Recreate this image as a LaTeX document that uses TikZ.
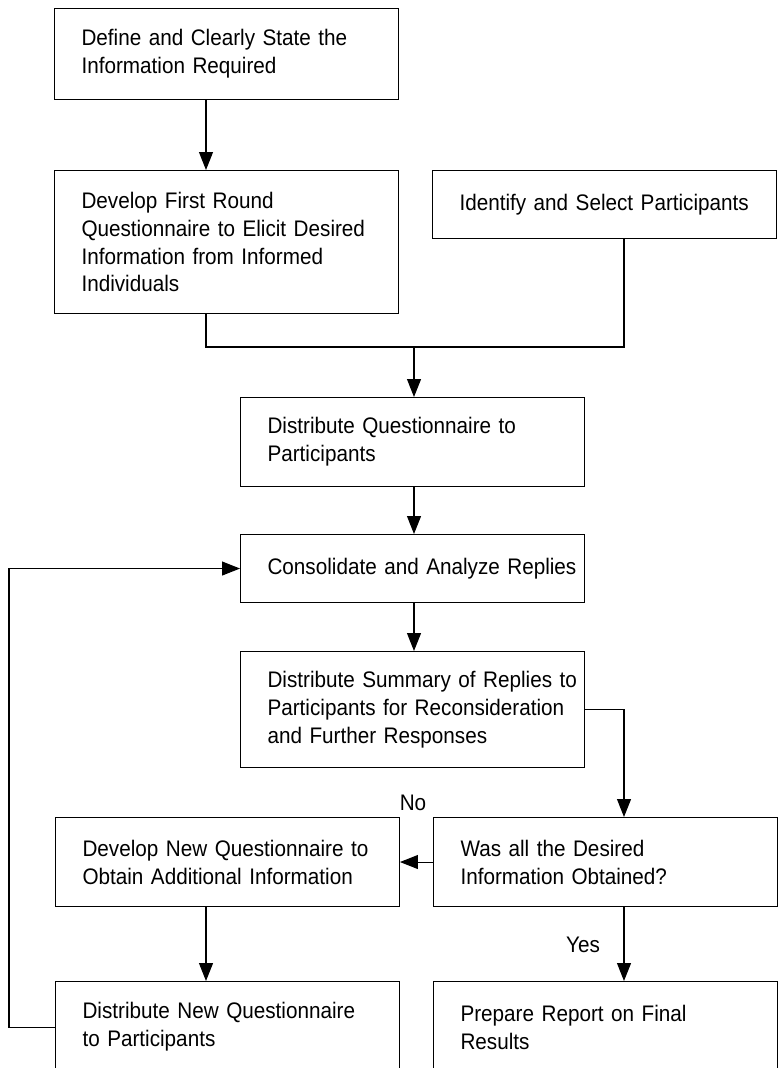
\documentclass[tikz,border=0pt]{standalone}
\usepackage{fontspec}
\setmainfont{Liberation Sans}[FakeStretch=0.92]
\usetikzlibrary{arrows.meta}
\newcommand\boxfont{\fontsize{12.8}{15.9}\selectfont}

\begin{document}
\begin{tikzpicture}[x=0.02cm, y=-0.02cm, line width=0.6pt,
  >={Triangle[length=0.36cm,width=0.28cm]},
  box/.style={draw, anchor=north west, text width=6.88cm, inner xsep=0pt,
    inner ysep=0pt, minimum height=#1, align=left, font=\boxfont,
    execute at begin node={\leftskip=0.54cm\relax}},
  lbl/.style={font=\boxfont, inner sep=0pt}]
\useasboundingbox (0,0) rectangle (782,1068);
\clip (0,0) rectangle (782,1068);
\coordinate (colA) at (206,0);
\coordinate (colB) at (414,0);
\coordinate (colC) at (624,0);
\coordinate (colL) at (9,0);
\coordinate (mrg) at (414,347);
% boxes
\node[box=1.82cm] (def) at (54,8) {Define and Clearly State the\\Information Required};
\node[box=2.86cm] (first) at (54,170) {Develop First Round\\Questionnaire to Elicit Desired\\Information from Informed\\Individuals};
\node[box=1.36cm] (ident) at (432,170) {Identify and Select Participants};
\node[box=1.78cm] (distq) at (240,397) {Distribute Questionnaire to\\Participants};
\node[box=1.36cm] (cons) at (240,534) {Consolidate and Analyze Replies};
\node[box=2.32cm] (summ) at (240,651) {Distribute Summary of Replies to\\Participants for Reconsideration\\and Further Responses};
\node[box=1.78cm] (newq) at (55,817) {Develop New Questionnaire to\\Obtain Additional Information};
\node[box=1.78cm] (was) at (433,817) {Was all the Desired\\Information Obtained?};
\node[box=1.82cm] (distnew) at (55,981) {Distribute New Questionnaire\\to Participants};
\node[box=1.82cm] (report) at (433,981) {Prepare Report on Final\\Results};
\node[lbl] (no) at (413,803) {No};
\node[lbl] (yes) at (583,945) {Yes};
% connectors
\draw[->] (def.south -| colA) -- (first.north -| colA);
\draw (first.south -| colA) |- (mrg) -| (ident.south -| colC);
\draw[->] (mrg) -- (distq.north -| mrg);
\draw[->] (distq.south -| colB) -- (cons.north -| colB);
\draw[->] (cons.south -| colB) -- (summ.north -| colB);
\draw[->] (summ.east) -| (was.north -| colC);
\draw[->] (was.west) -- (newq.east);
\draw[->] (was.south -| colC) -- (report.north -| colC);
\draw[->] (newq.south -| colA) -- (distnew.north -| colA);
\draw[->] (distnew.west) -- (distnew.west -| colL) |- (cons.west);
\end{tikzpicture}
\end{document}
